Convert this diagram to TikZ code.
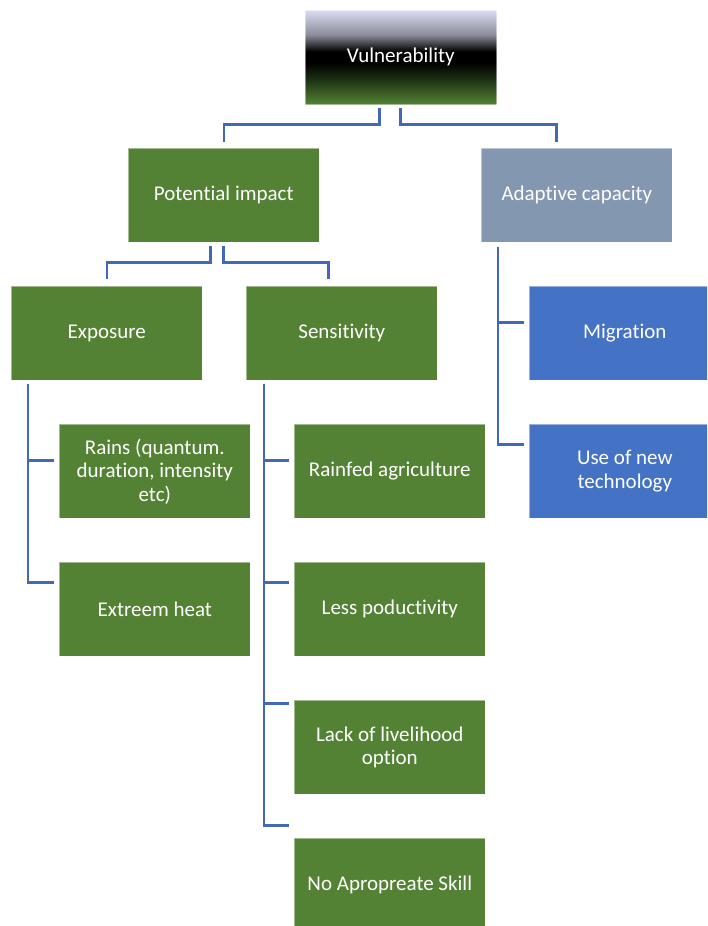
\documentclass[tikz,border=0pt]{standalone}
\usepackage{fontspec}
\setmainfont{Carlito}[RawFeature={-liga;-clig;-calt;-dlig;-rlig}]
\definecolor{gbox}{HTML}{548235}
\definecolor{bbox}{HTML}{4472C4}
\definecolor{abox}{HTML}{8497B0}
\definecolor{conncol}{HTML}{4169B8}
\definecolor{lav}{HTML}{DCDDF2}
\definecolor{midgray}{HTML}{8A8C9A}
\definecolor{dkgreen}{HTML}{1E3314}
\pgfdeclareverticalshading{vuln}{100bp}{color(0bp)=(gbox); color(25bp)=(gbox); color(38bp)=(dkgreen); color(47bp)=(black); color(53bp)=(black); color(62bp)=(midgray); color(75bp)=(lav); color(100bp)=(lav)}
\begin{document}
\begin{tikzpicture}[x=1pt,y=-1pt,
  box/.style={anchor=north west, minimum width=191pt, minimum height=94pt, inner sep=0pt,
    draw=white, draw opacity=0.45, line width=0.6pt, text=white, align=center,
    font=\fontsize{21}{23.5}\selectfont},
  gb/.style={box, fill=gbox},
  bb/.style={box, fill=bbox},
  ab/.style={box, fill=abox},
  conn/.style={draw=conncol, line width=2.6pt}]
\useasboundingbox (0,0) rectangle (707,926);
\clip (0,0) rectangle (707,926);
\node[box, shading=vuln] (vul) at (305,10) {Vulnerability};
\node[gb] (pot) at (128,148) {Potential impact};
\node[ab] (ada) at (481,148) {Adaptive capacity};
\node[gb] (exp) at (11,286) {Exposure};
\node[gb] (sen) at (246,286) {Sensitivity};
\node[bb] (mig) at (529,286) {Migration};
\node[bb] (tech) at (529,424) {Use of new\\technology};
\node[gb] (rains) at (59,424) {Rains (quantum.\\duration, intensity\\etc)};
\node[gb] (heat) at (59,562) {Extreem heat};
\node[gb] (rainfed) at (294,424) {Rainfed agriculture};
\node[gb] (less) at (294,562) {Less poductivity};
\node[gb] (lack) at (294,700) {Lack of livelihood\\option};
\node[gb] (skill) at (294,838) {No Apropreate Skill};
% top level
\draw[conn] ([xshift=-21.5pt,yshift=-3pt]vul.south) -- ++(0,17) -| ([yshift=6pt]pot.north);
\draw[conn] ([xshift=-0.5pt,yshift=-3pt]vul.south) -- ++(0,17) -| ([xshift=-20.5pt,yshift=6pt]ada.north);
% potential impact
\draw[conn] ([xshift=-13.5pt,yshift=-3pt]pot.south) -- ++(0,17) -| ([yshift=7pt]exp.north);
\draw[conn] ([xshift=-0.5pt,yshift=-3pt]pot.south) -- ++(0,17) -| ([xshift=-13.5pt,yshift=7pt]sen.north);
% exposure
\draw[conn] ([xshift=17pt,yshift=-3pt]exp.south west) |- ([xshift=-5pt,yshift=11pt]rains.west);
\draw[conn] ([xshift=17pt,yshift=-3pt]exp.south west) |- ([xshift=-5pt,yshift=27pt]heat.west);
% sensitivity
\draw[conn] ([xshift=18pt,yshift=-3pt]sen.south west) |- ([xshift=-5pt,yshift=11pt]rainfed.west);
\draw[conn] ([xshift=18pt,yshift=-3pt]sen.south west) |- ([xshift=-5pt,yshift=27pt]less.west);
\draw[conn] ([xshift=18pt,yshift=-3pt]sen.south west) |- ([xshift=-5pt,yshift=44pt]lack.west);
\draw[conn] ([xshift=18pt,yshift=-3pt]sen.south west) |- ([xshift=-5pt,yshift=60pt]skill.west);
% adaptive capacity
\draw[conn] ([xshift=17pt,yshift=-4pt]ada.south west) |- ([xshift=-5pt,yshift=11pt]mig.west);
\draw[conn] ([xshift=17pt,yshift=-4pt]ada.south west) |- ([xshift=-5pt,yshift=27pt]tech.west);
\end{tikzpicture}
\end{document}
